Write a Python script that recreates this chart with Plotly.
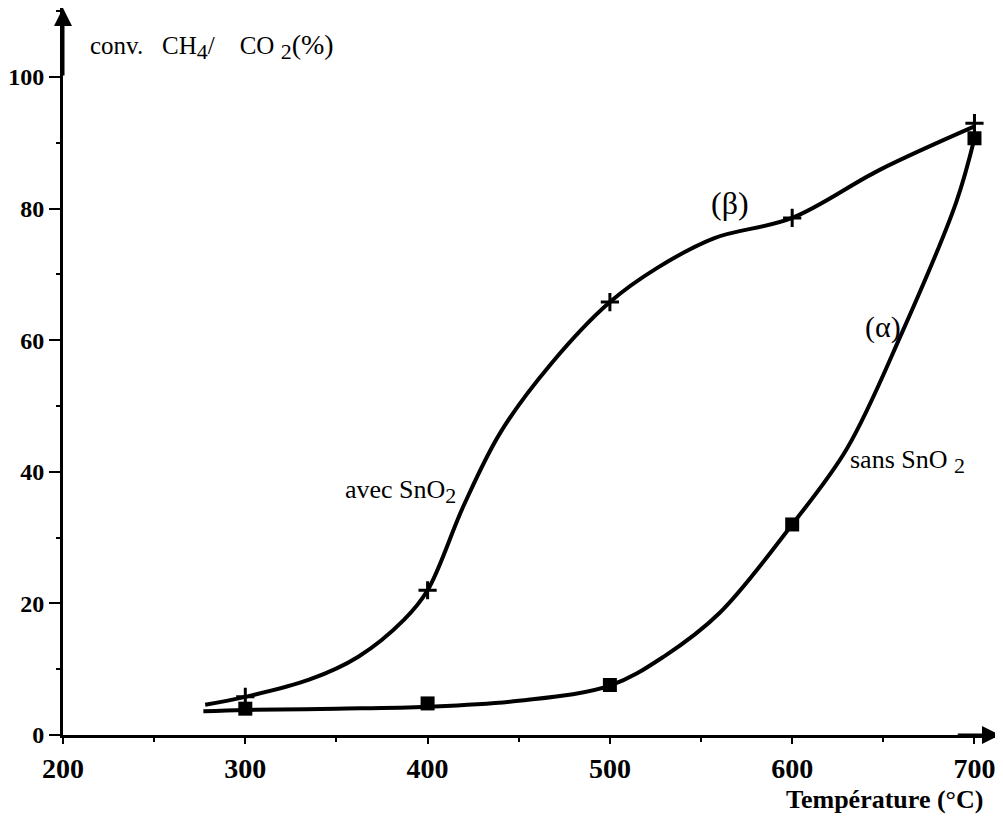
import plotly.graph_objects as go

# temperatures of the measured points (°C)
temp_pts = [300, 400, 500, 600, 700]
# conversion with SnO2, curve (beta), "+" markers
avec_pts = [5.8, 22, 65.8, 78.6, 93]
# conversion without SnO2, curve (alpha), square markers
sans_pts = [4.0, 4.8, 7.6, 32, 90.7]

# hand drawn curves
avec_curve_t = [278, 300, 335, 362, 387, 400, 420, 440, 468, 500, 526, 557, 600, 648, 700]
avec_curve_y = [4.6, 5.8, 8.4, 11.9, 17.5, 22, 35, 46, 56.5, 65.8, 71, 75.5, 78.6, 85.9, 92.5]
sans_curve_t = [277, 300, 350, 400, 450, 500, 530, 560, 600, 630, 660, 690, 700]
sans_curve_y = [3.6, 3.8, 4.0, 4.3, 5.2, 7.5, 12, 18.5, 32, 43.5, 61, 81, 90.7]

x_ticks = [200, 300, 400, 500, 600, 700]
y_ticks = [0, 20, 40, 60, 80, 100]

serif = "Liberation Serif"

fig = go.Figure()

fig.add_trace(go.Scatter(x=avec_curve_t, y=avec_curve_y, mode="lines",
                         line=dict(color="black", width=4, shape="spline", smoothing=1),
                         hoverinfo="skip"))
fig.add_trace(go.Scatter(x=sans_curve_t, y=sans_curve_y, mode="lines",
                         line=dict(color="black", width=4, shape="spline", smoothing=1),
                         hoverinfo="skip"))
fig.add_trace(go.Scatter(x=temp_pts, y=avec_pts, mode="markers",
                         marker=dict(symbol="cross-thin", size=13, line=dict(color="black", width=3))))
fig.add_trace(go.Scatter(x=temp_pts, y=sans_pts, mode="markers",
                         marker=dict(symbol="square", size=14, color="black")))

# arrow heads at the end of both axes
fig.add_annotation(x=714, y=0, ax=690, ay=0, axref="x", ayref="y", xref="x", yref="y",
                   text="", showarrow=True, arrowhead=2, arrowsize=1.2, arrowwidth=3, arrowcolor="black")
fig.add_annotation(x=200, y=110.5, ax=200, ay=100, axref="x", ayref="y", xref="x", yref="y",
                   text="", showarrow=True, arrowhead=2, arrowsize=1.2, arrowwidth=3, arrowcolor="black")

big_sub = "<sub><span style='font-size:22px'>%s</span></sub>"
fig.add_annotation(x=213.5, y=104.6, xref="x", yref="y", xanchor="left", yanchor="middle",
                   text="conv.&nbsp;&nbsp;&nbsp;CH" + big_sub % "4" + "/&nbsp;&nbsp;&nbsp;&nbsp;CO&nbsp;"
                        + big_sub % "2" + "<span style='font-size:28px'>(%)</span>",
                   showarrow=False, font=dict(family=serif, size=25, color="black"))
fig.add_annotation(x=353.5, y=37, xref="x", yref="y", xanchor="left", yanchor="middle",
                   text="avec SnO" + big_sub % "2", showarrow=False,
                   font=dict(family=serif, size=26, color="black"))
fig.add_annotation(x=630.5, y=41.5, xref="x", yref="y", xanchor="left", yanchor="middle",
                   text="sans SnO&nbsp;" + big_sub % "2", showarrow=False,
                   font=dict(family=serif, size=26, color="black"))
fig.add_annotation(x=566, y=80.8, xref="x", yref="y", text="(β)", showarrow=False,
                   font=dict(family=serif, size=32, color="black"))
fig.add_annotation(x=649.7, y=62, xref="x", yref="y", text="(α)", showarrow=False,
                   font=dict(family=serif, size=30, color="black"))
fig.add_annotation(x=0.984, y=-0.0894, xref="paper", yref="paper", xanchor="right", yanchor="middle",
                   text="<b>Température (°C)</b>", showarrow=False,
                   font=dict(family=serif, size=26, color="black"))

fig.update_xaxes(range=[200, 714], showgrid=False, zeroline=False,
                 showline=True, linecolor="black", linewidth=3,
                 tickvals=x_ticks, ticks="outside", ticklen=6, tickwidth=2, tickcolor="black",
                 minor=dict(ticks="outside", ticklen=4, tickwidth=2, tickcolor="black", dtick=50, tick0=200),
                 tickfont=dict(family=serif, size=28, color="black", weight="bold"))
fig.update_yaxes(range=[0, 110.5], showgrid=False, zeroline=False,
                 showline=True, linecolor="black", linewidth=3,
                 tickvals=y_ticks, ticks="outside", ticklen=11, tickwidth=2, tickcolor="black",
                 minor=dict(ticks="outside", ticklen=4, tickwidth=2, tickcolor="black", dtick=10, tick0=0),
                 tickfont=dict(family=serif, size=24, color="black", weight="bold"))

# page body adds 8px, so the figure is a bit smaller than the window
fig.update_layout(width=995, height=817, showlegend=False,
                  plot_bgcolor="white", paper_bgcolor="white",
                  margin=dict(l=52, r=3, t=0, b=90))

fig.write_html("out.html")
